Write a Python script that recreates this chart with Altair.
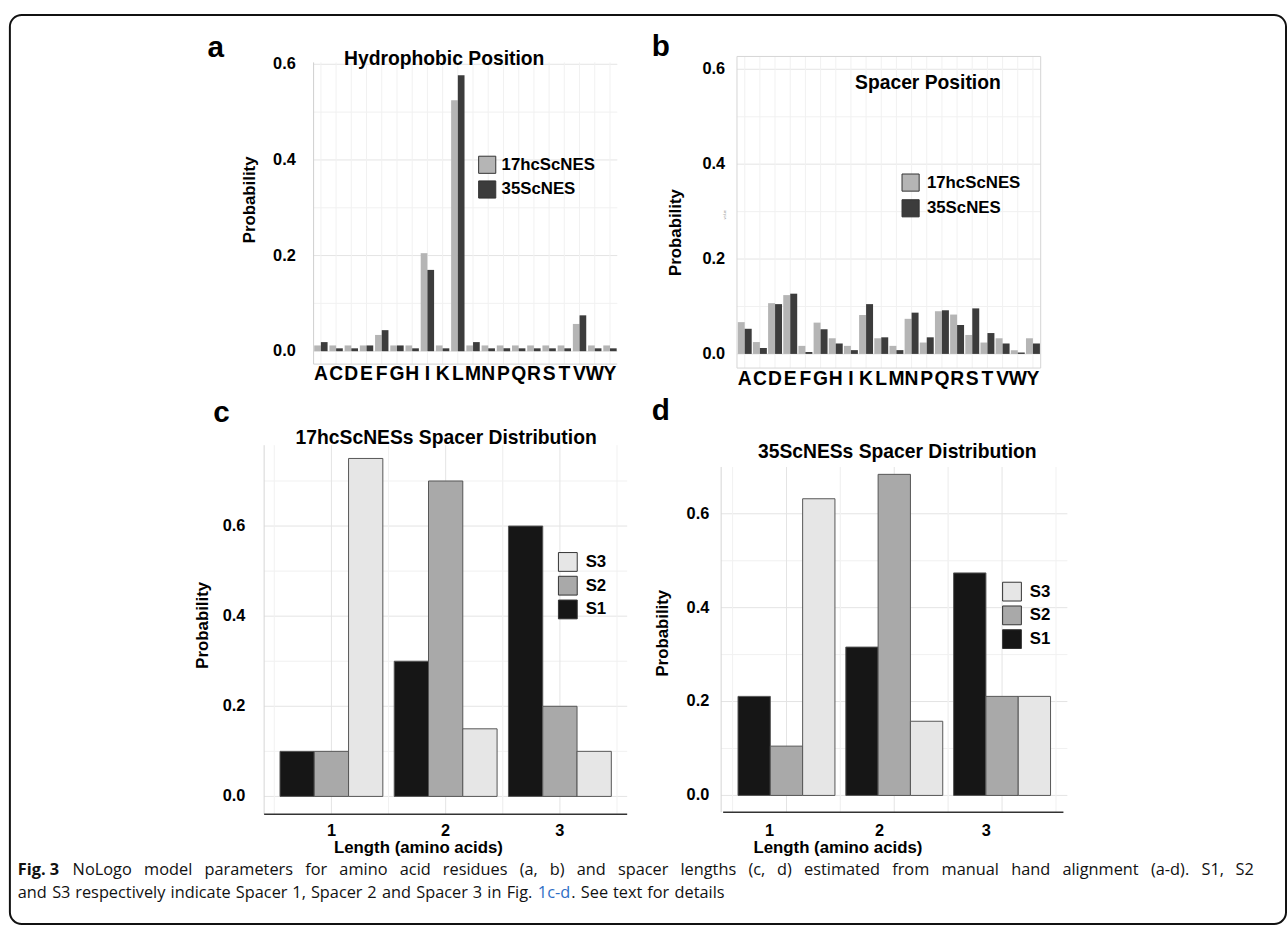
import altair as alt
import pandas as pd

# ---------------- data ----------------
letters = ["A", "C", "D", "E", "F", "G", "H", "I", "K", "L",
           "M", "N", "P", "Q", "R", "S", "T", "V", "W", "Y"]
series_ab = ["17hcScNES", "35ScNES"]

hyd_17 = [0.012, 0.012, 0.012, 0.012, 0.034, 0.012, 0.012, 0.205, 0.012, 0.525,
          0.012, 0.012, 0.012, 0.012, 0.012, 0.012, 0.012, 0.057, 0.012, 0.012]
hyd_35 = [0.019, 0.006, 0.006, 0.012, 0.044, 0.012, 0.006, 0.170, 0.006, 0.577,
          0.019, 0.006, 0.006, 0.006, 0.006, 0.006, 0.006, 0.075, 0.006, 0.006]

spc_17 = [0.067, 0.025, 0.107, 0.124, 0.017, 0.066, 0.033, 0.017, 0.082, 0.033,
          0.017, 0.074, 0.024, 0.090, 0.083, 0.040, 0.024, 0.033, 0.008, 0.033]
spc_35 = [0.053, 0.0125, 0.105, 0.127, 0.004, 0.052, 0.022, 0.008, 0.105, 0.035,
          0.008, 0.087, 0.035, 0.092, 0.061, 0.096, 0.044, 0.022, 0.003, 0.022]

lengths = ["1", "2", "3"]
series_cd = ["S1", "S2", "S3"]
c_s1 = [0.10, 0.30, 0.60]
c_s2 = [0.10, 0.70, 0.20]
c_s3 = [0.75, 0.15, 0.10]
d_s1 = [0.211, 0.316, 0.474]
d_s2 = [0.105, 0.684, 0.211]
d_s3 = [0.632, 0.158, 0.211]

grid_ab = [0.0, 0.1, 0.2, 0.3, 0.4, 0.5, 0.6]
grid_c = [0.0, 0.1, 0.2, 0.3, 0.4, 0.5, 0.6, 0.7]
grid_d = [0.0, 0.1, 0.2, 0.3, 0.4, 0.5, 0.6]
tick_vals = [0.0, 0.2, 0.4, 0.6]

B, N = "bold", "normal"
BLUE = "#2f6fc6"
caption_line1 = [
    [("Fig. 3", B)], [("NoLogo", N)], [("model", N)], [("parameters", N)],
    [("for", N)], [("amino", N)], [("acid", N)], [("residues", N)],
    [("(a,", N)], [("b)", N)], [("and", N)], [("spacer", N)],
    [("lengths", N)], [("(c,", N)], [("d)", N)],
    [("estimated", N)], [("from", N)], [("manual", N)], [("hand", N)], [("alignment", N)],
    [("(a-d).", N)], [("S1,", N)], [("S2", N)],
]
caption_line2 = [
    [("and", N)], [("S3", N)], [("respectively", N)], [("indicate", N)], [("Spacer", N)],
    [("1,", N)], [("Spacer", N)], [("2", N)], [("and", N)], [("Spacer", N)], [("3", N)],
    [("in", N)], [("Fig.", N)], [("1c-d", N, BLUE), (".", N)], [("See", N)], [("text", N)],
    [("for", N)], [("details", N)],
]

FONT = "Liberation Sans"
CAP_FONT = "Open Sans"
CAP_SIZE = 16.5
GRID_MAJ = "#e4e4e4"
GRID_MIN = "#f1f1f1"
LIGHT_AB = "#b5b5b5"
DARK_AB = "#3c3c3c"
COLS_CD = ["#161616", "#a9a9a9", "#e6e6e6"]

# approximate Open Sans advance widths (em) for laying out the justified caption
CW = {" ": .260, "a": .556, "b": .613, "c": .476, "d": .613, "e": .561, "f": .339,
      "g": .548, "h": .614, "i": .253, "j": .253, "k": .524, "l": .253, "m": .930,
      "n": .614, "o": .604, "p": .613, "q": .613, "r": .408, "s": .477, "t": .353,
      "u": .614, "v": .500, "w": .780, "x": .520, "y": .501, "z": .461,
      "(": .296, ")": .296, ",": .245, ".": .266, "-": .322,
      "A": .633, "D": .735, "F": .522, "L": .518, "N": .760, "S": .525,
      "1": .572, "2": .572, "3": .572}

ONE = pd.DataFrame({"k": [0]})


def txt(s, x, y, size, bold=True, align="center", angle=0, color="black", font=FONT,
        weight=None):
    kw = dict(text=s, fontSize=size,
              fontWeight=weight if weight else ("bold" if bold else "normal"),
              align=align, baseline="middle", color=color, font=font)
    if angle:
        kw["angle"] = angle
    return alt.Chart(ONE).mark_text(**kw).encode(x=alt.value(x), y=alt.value(y))


def hline(x1, x2, y, color, w=1.0):
    return alt.Chart(ONE).mark_rule(color=color, strokeWidth=w).encode(
        x=alt.value(x1), x2=alt.value(x2), y=alt.value(y))


def vline(x, y1, y2, color, w=1.0):
    return alt.Chart(ONE).mark_rule(color=color, strokeWidth=w).encode(
        x=alt.value(x), y=alt.value(y1), y2=alt.value(y2))


def legend(values, lx, ly, size, offset, rowpad, fsize):
    return alt.Legend(title=None, orient="none", legendX=lx, legendY=ly,
                      symbolType="square", symbolSize=size,
                      symbolStrokeColor="#333333", symbolStrokeWidth=1,
                      symbolOpacity=1,
                      labelFont=FONT, labelFontSize=fsize, labelFontWeight="bold",
                      labelColor="black", labelOffset=offset, rowPadding=rowpad,
                      padding=0, values=values)


def letter_panel(v17, v35, xr, pin, pout, ydom, yr, tick_x, lab_y, leg):
    df = pd.DataFrame({"letter": letters * 2,
                       "series": [series_ab[0]] * 20 + [series_ab[1]] * 20,
                       "p": v17 + v35})
    xs = alt.Scale(domain=letters, range=xr, paddingInner=pin, paddingOuter=pout)
    ys = alt.Scale(domain=ydom, range=yr, nice=False, zero=False)
    X = alt.X("letter:N", scale=xs, axis=None)
    gdf = pd.DataFrame({"g": grid_ab, "major": [i % 2 == 0 for i in range(len(grid_ab))]})
    grid_h = alt.Chart(gdf).mark_rule(strokeWidth=1).encode(
        y=alt.Y("g:Q", scale=ys, axis=None),
        x=alt.value(xr[0]), x2=alt.value(xr[1]),
        color=alt.condition("datum.major", alt.value(GRID_MAJ), alt.value(GRID_MIN)))
    grid_v = alt.Chart(pd.DataFrame({"letter": letters})).mark_rule(
        color=GRID_MIN, strokeWidth=1).encode(x=X, y=alt.value(yr[1]), y2=alt.value(yr[0]))
    bars = alt.Chart(df).mark_bar().encode(
        x=X,
        xOffset=alt.XOffset("series:N", scale=alt.Scale(domain=series_ab)),
        y=alt.Y("p:Q", scale=ys, axis=None),
        y2=alt.datum(0),
        color=alt.Color("series:N", scale=alt.Scale(domain=series_ab, range=[LIGHT_AB, DARK_AB]),
                        legend=leg))
    ticks = alt.Chart(pd.DataFrame({"t": tick_vals})).mark_text(
        align="right", baseline="middle", fontSize=16.5, fontWeight="bold", font=FONT,
        color="black").encode(
        y=alt.Y("t:Q", scale=ys, axis=None), x=alt.value(tick_x),
        text=alt.Text("t:Q", format=".1f"))
    xlabs = alt.Chart(pd.DataFrame({"letter": letters})).mark_text(
        baseline="middle", fontSize=19.5, fontWeight="bold", font=FONT, color="black").encode(
        x=X, y=alt.value(lab_y), text="letter:N")
    return [grid_h, grid_v, bars, ticks, xlabs]


def length_panel(s1, s2, s3, xr, pout, opad, ydom, yr, gvals, tick_x, leg):
    df = pd.DataFrame({"len": lengths * 3,
                       "series": ["S1"] * 3 + ["S2"] * 3 + ["S3"] * 3,
                       "p": s1 + s2 + s3})
    xs = alt.Scale(domain=lengths, range=xr, paddingInner=0, paddingOuter=pout)
    ys = alt.Scale(domain=ydom, range=yr, nice=False, zero=False)
    gdf = pd.DataFrame({"g": gvals, "major": [i % 2 == 0 for i in range(len(gvals))]})
    grid_h = alt.Chart(gdf).mark_rule(strokeWidth=1).encode(
        y=alt.Y("g:Q", scale=ys, axis=None),
        x=alt.value(xr[0]), x2=alt.value(xr[1]),
        color=alt.condition("datum.major", alt.value(GRID_MAJ), alt.value(GRID_MIN)))
    ldf = pd.DataFrame({"len": lengths})
    layers = [grid_h]
    for bp, col in [(0.5, GRID_MAJ), (0.0, GRID_MIN), (1.0, GRID_MIN)]:
        layers.append(alt.Chart(ldf).mark_rule(color=col, strokeWidth=1).encode(
            x=alt.X("len:N", scale=xs, axis=None, bandPosition=bp),
            y=alt.value(yr[1]), y2=alt.value(yr[0])))
    bars = alt.Chart(df).mark_bar(stroke="#555555", strokeWidth=1).encode(
        x=alt.X("len:N", scale=xs, axis=None),
        xOffset=alt.XOffset("series:N", scale=alt.Scale(domain=series_cd, paddingInner=0,
                                                          paddingOuter=opad)),
        y=alt.Y("p:Q", scale=ys, axis=None),
        y2=alt.datum(0),
        color=alt.Color("series:N", scale=alt.Scale(domain=series_cd, range=COLS_CD),
                        legend=leg))
    ticks = alt.Chart(pd.DataFrame({"t": tick_vals})).mark_text(
        align="right", baseline="middle", fontSize=16.5, fontWeight="bold", font=FONT,
        color="black").encode(
        y=alt.Y("t:Q", scale=ys, axis=None), x=alt.value(tick_x),
        text=alt.Text("t:Q", format=".1f"))
    layers += [bars, ticks]
    return layers, xs


def seg_width(seg):
    s, w = seg[0], seg[1]
    f = 1.08 if w == B else 1.0
    return sum(CW.get(ch, 0.55) for ch in s) * CAP_SIZE * f + 1.0


def caption_line(words, x0, y, x_end=None):
    widths = [sum(seg_width(sg) for sg in wd) for wd in words]
    if x_end is None:
        gap = CW[" "] * CAP_SIZE
    else:
        gap = (x_end - x0 - sum(widths)) / (len(words) - 1)
    out = []
    x = x0
    for wd, ww in zip(words, widths):
        xs = x
        for sg in wd:
            col = sg[2] if len(sg) > 2 else "#111111"
            out.append(txt(sg[0], xs, y, CAP_SIZE, align="left", color=col,
                           font=CAP_FONT, weight=sg[1]))
            xs += seg_width(sg)
        x += ww + gap
    return out


# ---------------- panel a ----------------
la = letter_panel(hyd_17, hyd_35, [317, 624], 0.12, 0.04, [-0.027, 0.604], [363, 58],
                  299, 373, legend(series_ab, 483, 152, 300, 5, 2, 17))
la += [
    vline(317, 58, 363, "#cfcfcf"),
    hline(317, 624, 363, "#cfcfcf"),
    txt("Hydrophobic Position", 449, 55, 19.5),
    txt("Probability", 253, 197, 17, angle=270),
    txt("a", 218, 44, 30),
]
panel_a = alt.layer(*la)

# ---------------- panel b ----------------
lb = letter_panel(spc_17, spc_35, [745, 1052], 0.08, 0.05, [-0.0298, 0.6271], [367, 52],
                  733, 378, legend(series_ab, 911, 170, 300, 7, 3, 17))
lb += [
    vline(745, 52, 367, "#d4d4d4"),
    vline(1052, 52, 367, "#d4d4d4"),
    hline(745, 1052, 52, "#d4d4d4"),
    hline(745, 1052, 367, "#d4d4d4"),
    txt("Spacer Position", 938, 79, 19.5),
    txt("Probability", 683, 230, 17, angle=270),
    txt("value", 733, 212, 4, bold=False, angle=270, color="#999999"),
    txt("b", 668, 43, 30),
]
panel_b = alt.layer(*lb)

# ---------------- panel c ----------------
lc, xs_c = length_panel(c_s1, c_s2, c_s3, [267, 634], 0.089, 0.166,
                        [-0.0395, 0.7794], [818, 445],
                        grid_c, 248, legend(["S3", "S2", "S1"], 564, 553, 361, 8, 0, 17))
lc += [
    vline(267, 445, 818, "#d6d6d6"),
    hline(267, 634, 818, "#333333", 1.6),
    alt.Chart(pd.DataFrame({"len": lengths})).mark_text(
        baseline="middle", fontSize=16.5, fontWeight="bold", font=FONT, color="black").encode(
        x=alt.X("len:N", scale=xs_c, axis=None), y=alt.value(835), text="len:N"),
    txt("Length (amino acids)", 423, 852, 17),
    txt("17hcScNESs Spacer Distribution", 451, 438, 19.5),
    txt("Probability", 205, 627, 17, angle=270),
    txt("c", 224, 413, 30),
]
panel_c = alt.layer(*lc)

# ---------------- panel d ----------------
ld, xs_d = length_panel(d_s1, d_s2, d_s3, [729, 1079], 0.106, 0.168,
                        [-0.0358, 0.6997], [816, 467],
                        grid_d, 717, legend(["S3", "S2", "S1"], 1013, 583, 361, 8, 0, 17))
ld += [
    vline(729, 467, 816, "#d6d6d6"),
    hline(731, 1075, 816, "#333333", 1.6),
    txt("1", 778, 835, 16.5), txt("2", 889, 835, 16.5), txt("3", 997, 835, 16.5),
    txt("Length (amino acids)", 847, 852, 17),
    txt("35ScNESs Spacer Distribution", 907, 452, 19.5),
    txt("Probability", 670, 635, 17, angle=270),
    txt("d", 668, 411, 30),
]
panel_d = alt.layer(*ld)

# ---------------- frame and caption ----------------
frame = alt.Chart(ONE).mark_rect(fill="white", fillOpacity=0, stroke="#111111",
                                 strokeWidth=2, cornerRadius=12).encode(
    x=alt.value(10), y=alt.value(10), x2=alt.value(1300), y2=alt.value(929))

caption = caption_line(caption_line1, 18, 874.5, 1268) + caption_line(caption_line2, 18, 897.5)
decor = alt.layer(frame, *caption)

chart = alt.layer(panel_a, panel_b, panel_c, panel_d, decor).resolve_scale(
    x="independent", y="independent", color="independent", xOffset="independent"
).properties(
    width=1287, height=931, padding=0, background="white"
).configure_view(stroke=None)

chart.save("out.html", embed_options={"renderer": "svg", "actions": False})
